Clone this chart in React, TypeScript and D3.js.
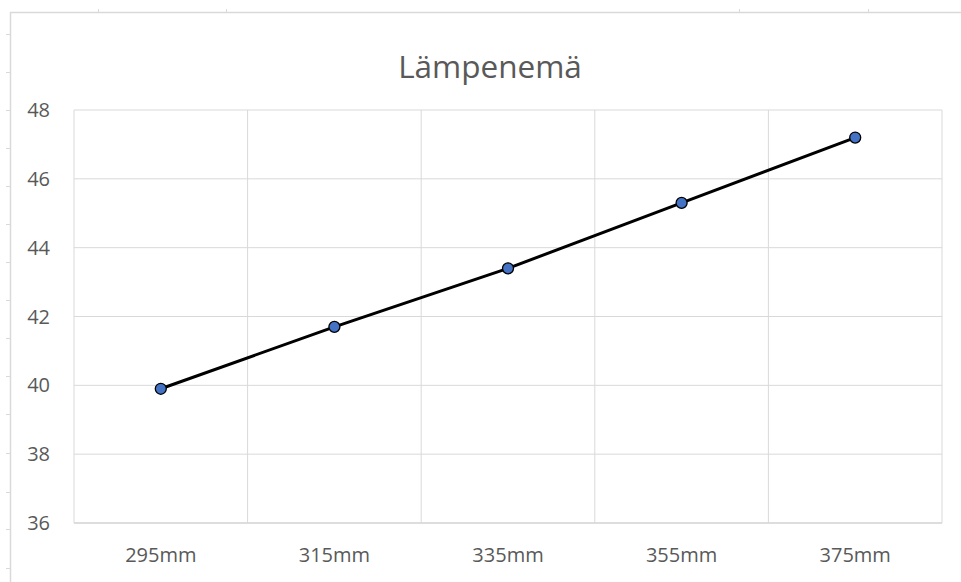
import React from "react";
import * as d3 from "d3";

const categories = ["295mm", "315mm", "335mm", "355mm", "375mm"];
const values = [39.9, 41.7, 43.4, 45.3, 47.2];
const yTicks = [36, 38, 40, 42, 44, 46, 48];
const title = "Lämpenemä";
// spreadsheet background marks
const colMarks = [98, 226, 739, 868];
const rowMarks = [34, 72, 110, 148, 186, 224, 262, 300, 338, 376, 414, 453, 492, 529, 568];

export default function App() {
  const W = 961, H = 582;
  const left = 74, right = 942, top = 110, bottom = 523;
  const x = d3.scaleBand<string>().domain(categories).range([left, right]);
  const y = d3.scaleLinear().domain([36, 48]).range([bottom, top]);
  const line = d3
    .line<number>()
    .x((_, i) => x(categories[i])! + x.bandwidth() / 2)
    .y((d) => y(d));
  const font = "'Open Sans', 'Noto Sans', sans-serif";
  const grey = "#595959";
  const grid = "#d9d9d9";
  return (
    <svg width={W} height={H} style={{ position: "absolute", left: 0, top: 0, background: "#fff" }}>
      <rect x={0} y={0} width={W} height={H} fill="#fff" />
      {/* outer sheet frame */}
      <line x1={10} x2={W} y1={12.5} y2={12.5} stroke={grid} strokeWidth={1.5} />
      <line x1={10.5} x2={10.5} y1={12} y2={H} stroke={grid} strokeWidth={1.5} />
      {colMarks.map((c) => (
        <line key={c} x1={c + 0.5} x2={c + 0.5} y1={9} y2={12} stroke={grid} />
      ))}
      {rowMarks.map((r) => (
        <line key={r} x1={6} x2={10} y1={r + 0.5} y2={r + 0.5} stroke={grid} />
      ))}
      {/* horizontal gridlines */}
      {yTicks.map((t) => (
        <line key={t} x1={left} x2={right} y1={y(t)} y2={y(t)} stroke={grid} strokeWidth={1} />
      ))}
      {/* vertical gridlines at band boundaries */}
      {categories.map((c) => (
        <line key={c} x1={x(c)!} x2={x(c)!} y1={top} y2={bottom} stroke={grid} strokeWidth={1} />
      ))}
      <line x1={right} x2={right} y1={top} y2={bottom} stroke={grid} strokeWidth={1} />
      <line x1={left} x2={right} y1={bottom} y2={bottom} stroke={grid} strokeWidth={1.5} />
      {/* y labels */}
      {yTicks.map((t) => (
        <text key={t} x={50} y={y(t)} dy="0.35em" textAnchor="end" fontFamily={font} fontSize={20} fill={grey}>
          {t}
        </text>
      ))}
      {/* x labels */}
      {categories.map((c) => (
        <text key={c} x={x(c)! + x.bandwidth() / 2} y={555} dy="0.35em" textAnchor="middle" fontFamily={font} fontSize={20} fill={grey}>
          {c}
        </text>
      ))}
      <text x={490} y={67} dy="0.35em" textAnchor="middle" fontFamily={font} fontSize={31.5} fill={grey}>
        {title}
      </text>
      <path d={line(values)!} fill="none" stroke="#000" strokeWidth={3} />
      {values.map((v, i) => (
        <circle key={i} cx={x(categories[i])! + x.bandwidth() / 2} cy={y(v)} r={5.5} fill="#4472C4" stroke="#000" strokeWidth={1.3} />
      ))}
    </svg>
  );
}
